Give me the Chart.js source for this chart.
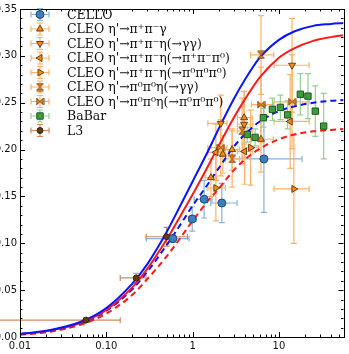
<!DOCTYPE html>
<html>
<head>
<meta charset="utf-8">
<script src="https://cdn.jsdelivr.net/npm/chart.js@4.4.1/dist/chart.umd.min.js"></script>
<style>
  html, body { margin: 0; padding: 0; background: #fff; }
</style>
</head>
<body>
<canvas id="tffChart" width="349" height="354"></canvas>
<script>
// axis ticks
const xTicks = [0.01, 0.1, 1, 10];
const xTickLabels = ["0.01", "0.10", "1", "10"];

// model curves
const curveQ2   = [0.01, 0.02, 0.05, 0.1, 0.2, 0.3, 0.5, 0.7, 1, 1.5, 2, 3, 4, 6, 10, 15, 25, 40, 56];
const blueSolid = [0.0033, 0.0066, 0.016, 0.031, 0.057, 0.078, 0.112, 0.138, 0.166, 0.198, 0.222, 0.254, 0.274, 0.298, 0.317, 0.326, 0.332, 0.334, 0.335];
const redSolid  = [0.0031, 0.0062, 0.015, 0.029, 0.053, 0.073, 0.104, 0.127, 0.152, 0.182, 0.204, 0.234, 0.253, 0.277, 0.298, 0.308, 0.316, 0.320, 0.322];
const blueDash  = [0.003, 0.006, 0.0145, 0.028, 0.051, 0.070, 0.098, 0.118, 0.140, 0.163, 0.180, 0.203, 0.216, 0.230, 0.241, 0.246, 0.250, 0.252, 0.253];
const redDash   = [0.0025, 0.005, 0.013, 0.025, 0.045, 0.062, 0.086, 0.104, 0.124, 0.145, 0.158, 0.178, 0.189, 0.201, 0.211, 0.216, 0.2195, 0.221, 0.222];

// CELLO
const celloQ2   = [0.59, 0.99, 1.36, 2.18, 6.7];
const celloVal  = [0.105, 0.126, 0.147, 0.143, 0.190];
const celloQ2Lo = [0.29, 0.90, 1.04, 1.62, 2.88];
const celloQ2Hi = [0.91, 1.10, 1.68, 3.27, 18.5];
const celloErr  = [0.004, 0.013, 0.020, 0.021, 0.057];

// CLEO, one list per decay mode
const cleo1Q2 = [1.63, 2.24, 2.87, 3.95, 6.2];
const cleo1Val = [0.170, 0.195, 0.200, 0.234, 0.211];
const cleo1Q2Lo = [1.4, 1.9, 2.4, 3.3, 4.8];
const cleo1Q2Hi = [1.9, 2.6, 3.5, 4.9, 8.6];
const cleo1Err = [0.020, 0.020, 0.022, 0.028, 0.035];

const cleo2Q2 = [2.12, 3.95, 14.2];
const cleo2Val = [0.228, 0.227, 0.290];
const cleo2Q2Lo = [1.5, 3.3, 8.8];
const cleo2Q2Hi = [2.5, 5.0, 22.4];
const cleo2Err = [0.030, 0.035, 0.050];

const cleo3Q2 = [1.86, 4.0, 13.5];
const cleo3Val = [0.197, 0.198, 0.230];
const cleo3Q2Lo = [1.5, 3.3, 8.8];
const cleo3Q2Hi = [2.4, 5.0, 22.4];
const cleo3Err = [0.030, 0.035, 0.050];

const cleo4Q2 = [1.86, 4.7, 14.9];
const cleo4Val = [0.159, 0.202, 0.158];
const cleo4Q2Lo = [1.5, 3.8, 8.8];
const cleo4Q2Hi = [2.4, 5.8, 22.4];
const cleo4Err = [0.035, 0.040, 0.058];

const cleo5Q2 = [2.87, 3.75, 6.2];
const cleo5Val = [0.190, 0.220, 0.301];
const cleo5Q2Lo = [2.4, 3.3, 4.7];
const cleo5Q2Hi = [3.5, 4.9, 8.7];
const cleo5Err = [0.030, 0.035, 0.042];

const cleo6Q2 = [2.12, 6.2, 14.2];
const cleo6Val = [0.202, 0.248, 0.251];
const cleo6Q2Lo = [1.5, 4.8, 8.8];
const cleo6Q2Hi = [2.5, 8.6, 22.4];
const cleo6Err = [0.030, 0.040, 0.050];

// BaBar
const babarQ2  = [4.3, 5.3, 6.6, 8.4, 10.4, 12.6, 17.7, 21.7, 26.4, 33];
const babarVal = [0.216, 0.213, 0.234, 0.243, 0.245, 0.237, 0.259, 0.257, 0.241, 0.225];
const babarErr = [0.008, 0.009, 0.010, 0.012, 0.013, 0.015, 0.022, 0.024, 0.027, 0.035];

// L3
const l3Q2   = [0.058, 0.222, 0.50];
const l3Val  = [0.018, 0.063, 0.107];
const l3Q2Lo = [0.005, 0.145, 0.29];
const l3Q2Hi = [0.145, 0.288, 0.87];
const l3Err  = [0.002, 0.005, 0.010];

const cleoLabels = [
    "CLEO η'→π⁺π⁻γ",
    "CLEO η'→π⁺π⁻η(→γγ)",
    "CLEO η'→π⁺π⁻η(→π⁺π⁻π⁰)",
    "CLEO η'→π⁺π⁻η(→π⁰π⁰π⁰)",
    "CLEO η'→π⁰π⁰η(→γγ)",
    "CLEO η'→π⁰π⁰η(→π⁰π⁰π⁰)"
];

const CLEO_FILL = "#f28a1e";
const CLEO_EDGE = "#6e3f08";
const CLEO_BAR = "#ffb266";

// two-triangle markers that Chart.js does not have
function makeTwinTriangle(vertical) {
    const c = document.createElement("canvas");
    c.width = 9;
    c.height = 9;
    const g = c.getContext("2d");
    g.fillStyle = CLEO_FILL;
    g.strokeStyle = CLEO_EDGE;
    g.lineWidth = 1;
    g.beginPath();
    if (vertical) {
        g.moveTo(1, 1); g.lineTo(8, 1); g.lineTo(4.5, 4.5); g.closePath();
        g.moveTo(1, 8); g.lineTo(8, 8); g.lineTo(4.5, 4.5); g.closePath();
    } else {
        g.moveTo(1, 1); g.lineTo(1, 8); g.lineTo(4.5, 4.5); g.closePath();
        g.moveTo(8, 1); g.lineTo(8, 8); g.lineTo(4.5, 4.5); g.closePath();
    }
    g.fill();
    g.stroke();
    return c;
}
const hourglass = makeTwinTriangle(true);
const bowtie = makeTwinTriangle(false);

function pts(xs, ys) {
    return xs.map((x, i) => ({ x: x, y: ys[i] }));
}

function series(label, xs, ys, lo, hi, err, style) {
    return {
        type: "scatter",
        label: label,
        data: pts(xs, ys),
        pointStyle: style.shape,
        rotation: style.rotation || 0,
        pointRadius: style.radius,
        backgroundColor: style.fill,
        borderColor: style.edge,
        borderWidth: 1,
        errX: [lo || xs, hi || xs],
        errY: err,
        barColor: style.bar
    };
}

const cleoStyle = (shape, rotation) => ({
    shape: shape, rotation: rotation, radius: 4,
    fill: CLEO_FILL, edge: CLEO_EDGE, bar: CLEO_BAR
});

const scatterSets = [
    series("CELLO", celloQ2, celloVal, celloQ2Lo, celloQ2Hi, celloErr,
        { shape: "circle", radius: 4, fill: "#3b7fc0", edge: "#1d4a73", bar: "#86b4da" }),
    series(cleoLabels[0], cleo1Q2, cleo1Val, cleo1Q2Lo, cleo1Q2Hi, cleo1Err, cleoStyle("triangle", 0)),
    series(cleoLabels[1], cleo2Q2, cleo2Val, cleo2Q2Lo, cleo2Q2Hi, cleo2Err, cleoStyle("triangle", 180)),
    series(cleoLabels[2], cleo3Q2, cleo3Val, cleo3Q2Lo, cleo3Q2Hi, cleo3Err, cleoStyle("triangle", 270)),
    series(cleoLabels[3], cleo4Q2, cleo4Val, cleo4Q2Lo, cleo4Q2Hi, cleo4Err, cleoStyle("triangle", 90)),
    series(cleoLabels[4], cleo5Q2, cleo5Val, cleo5Q2Lo, cleo5Q2Hi, cleo5Err, cleoStyle(hourglass, 0)),
    series(cleoLabels[5], cleo6Q2, cleo6Val, cleo6Q2Lo, cleo6Q2Hi, cleo6Err, cleoStyle(bowtie, 0)),
    series("BaBar", babarQ2, babarVal, null, null, babarErr,
        { shape: "rect", radius: 4.5, fill: "#3d9c3d", edge: "#1f5a1f", bar: "#95d095" }),
    series("L3", l3Q2, l3Val, l3Q2Lo, l3Q2Hi, l3Err,
        { shape: "circle", radius: 3, fill: "#5e3a1c", edge: "#3a2410", bar: "#cf8a66" })
];

function curve(values, color, dashed) {
    return {
        type: "line",
        data: pts(curveQ2, values),
        borderColor: color,
        borderWidth: 2,
        borderDash: dashed ? [6, 4] : [],
        pointRadius: 0,
        fill: false,
        cubicInterpolationMode: "monotone"
    };
}

const lineSets = [
    curve(blueSolid, "#0a14ff", false),
    curve(redSolid, "#ff1a1a", false),
    curve(blueDash, "#0a14ff", true),
    curve(redDash, "#ff1a1a", true)
];

// error bars, drawn under the markers
const errorBarPlugin = {
    id: "errorBars",
    beforeDatasetsDraw(chart) {
        const ctx = chart.ctx;
        const xs = chart.scales.x;
        const ys = chart.scales.y;
        const cap = 3;
        ctx.save();
        ctx.lineWidth = 1.2;
        chart.data.datasets.forEach(ds => {
            if (!ds.errY) return;
            ctx.strokeStyle = ds.barColor;
            ds.data.forEach((p, i) => {
                const px = xs.getPixelForValue(p.x);
                const py = ys.getPixelForValue(p.y);
                const x0 = xs.getPixelForValue(ds.errX[0][i]);
                const x1 = xs.getPixelForValue(ds.errX[1][i]);
                const y0 = ys.getPixelForValue(p.y - ds.errY[i]);
                const y1 = ys.getPixelForValue(p.y + ds.errY[i]);
                ctx.beginPath();
                ctx.moveTo(px, y0); ctx.lineTo(px, y1);
                ctx.moveTo(px - cap, y0); ctx.lineTo(px + cap, y0);
                ctx.moveTo(px - cap, y1); ctx.lineTo(px + cap, y1);
                if (x1 - x0 > 0.5) {
                    ctx.moveTo(x0, py); ctx.lineTo(x1, py);
                    ctx.moveTo(x0, py - cap); ctx.lineTo(x0, py + cap);
                    ctx.moveTo(x1, py - cap); ctx.lineTo(x1, py + cap);
                }
                ctx.stroke();
            });
        });
        ctx.restore();
    }
};

// box with inward ticks on all four sides
const framePlugin = {
    id: "frame",
    afterDraw(chart) {
        const ctx = chart.ctx;
        const a = chart.chartArea;
        const xs = chart.scales.x;
        const ys = chart.scales.y;
        ctx.save();
        ctx.strokeStyle = "#000";
        ctx.lineWidth = 1;
        ctx.beginPath();
        for (let d = 0.01; d < 100; d *= 10) {
            for (let m = 1; m < 10; m++) {
                const v = d * m;
                if (v < xs.min || v > xs.max) continue;
                const len = m === 1 ? 5 : 2.5;
                const px = Math.round(xs.getPixelForValue(v)) + 0.5;
                ctx.moveTo(px, a.bottom); ctx.lineTo(px, a.bottom - len);
                ctx.moveTo(px, a.top); ctx.lineTo(px, a.top + len);
            }
        }
        for (let k = 0; k <= 35; k++) {
            const len = k % 5 === 0 ? 5 : 2.5;
            const py = Math.round(ys.getPixelForValue(k / 100)) + 0.5;
            ctx.moveTo(a.left, py); ctx.lineTo(a.left + len, py);
            ctx.moveTo(a.right, py); ctx.lineTo(a.right - len, py);
        }
        ctx.stroke();
        ctx.strokeRect(Math.round(a.left) + 0.5, Math.round(a.top) + 0.5,
            Math.round(a.right - a.left), Math.round(a.bottom - a.top));
        ctx.restore();
    }
};

// legend inside the plot, marker drawn with its error cross
const legendPlugin = {
    id: "insideLegend",
    afterDraw(chart) {
        const ctx = chart.ctx;
        const mx = 40;
        const tx = 67;
        let y = 14.5;
        ctx.save();
        ctx.font = "12.5px 'DejaVu Serif'";
        ctx.textBaseline = "middle";
        scatterSets.forEach(ds => {
            ctx.strokeStyle = ds.barColor;
            ctx.lineWidth = 1.2;
            ctx.beginPath();
            ctx.moveTo(mx - 9, y); ctx.lineTo(mx + 9, y);
            ctx.moveTo(mx - 9, y - 3); ctx.lineTo(mx - 9, y + 3);
            ctx.moveTo(mx + 9, y - 3); ctx.lineTo(mx + 9, y + 3);
            ctx.moveTo(mx, y - 6); ctx.lineTo(mx, y + 6);
            ctx.moveTo(mx - 3, y - 6); ctx.lineTo(mx + 3, y - 6);
            ctx.moveTo(mx - 3, y + 6); ctx.lineTo(mx + 3, y + 6);
            ctx.stroke();
            ctx.fillStyle = ds.backgroundColor;
            ctx.strokeStyle = ds.borderColor;
            ctx.lineWidth = 1;
            Chart.helpers.drawPoint(ctx, {
                pointStyle: ds.pointStyle,
                rotation: ds.rotation,
                radius: ds.pointRadius,
                borderWidth: 1
            }, mx, y);
            ctx.fillStyle = "#111";
            ctx.fillText(ds.label, tx, y + 1);
            y += 14.5;
        });
        ctx.restore();
    }
};

const tickFont = { family: "'DejaVu Sans'", size: 10 };

new Chart(document.getElementById("tffChart").getContext("2d"), {
    type: "scatter",
    data: { datasets: scatterSets.concat(lineSets) },
    options: {
        responsive: false,
        animation: false,
        layout: { padding: { top: 7, right: 4, left: 0, bottom: 0 } },
        plugins: { legend: { display: false }, tooltip: { enabled: false } },
        scales: {
            x: {
                type: "logarithmic",
                min: 0.01,
                max: 56,
                grid: { display: false, drawTicks: false },
                border: { display: false },
                afterBuildTicks: s => { s.ticks = xTicks.map(v => ({ value: v })); },
                afterFit: s => { s.height = 17; },
                ticks: {
                    font: tickFont, color: "#111", padding: 3,
                    maxRotation: 0, autoSkip: false,
                    callback: (v, i) => xTickLabels[i]
                }
            },
            y: {
                min: 0,
                max: 0.35,
                grid: { display: false, drawTicks: false },
                border: { display: false },
                afterFit: s => { s.width = 20; },
                ticks: {
                    font: tickFont, color: "#111", padding: 3, stepSize: 0.05,
                    callback: v => v.toFixed(2)
                }
            }
        }
    },
    plugins: [errorBarPlugin, framePlugin, legendPlugin]
});
</script>
</body>
</html>
